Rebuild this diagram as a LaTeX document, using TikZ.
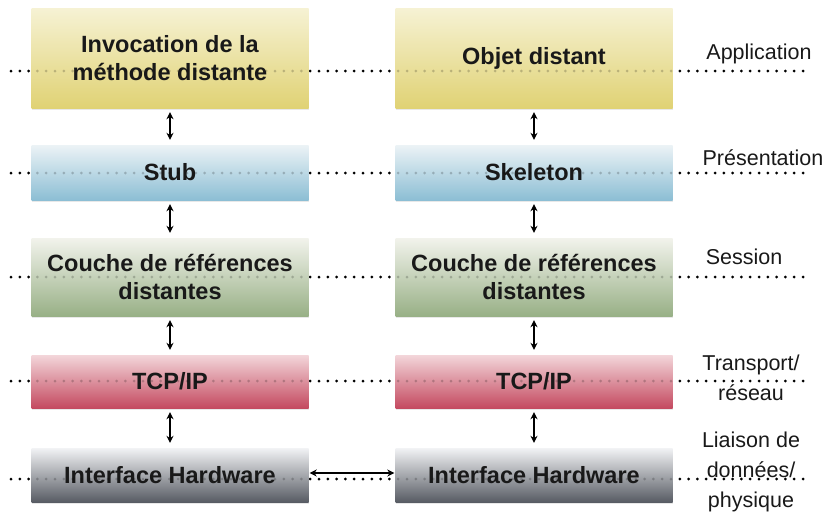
\documentclass[tikz,border=0pt]{standalone}
\usepackage{fontspec}
\setmainfont{Liberation Sans}
\usetikzlibrary{arrows.meta,shadows}

\definecolor{ylwTop}{RGB}{246,242,212}
\definecolor{ylwBot}{RGB}{224,210,116}
\definecolor{bluTop}{RGB}{236,243,246}
\definecolor{bluBot}{RGB}{140,190,212}
\definecolor{grnTop}{RGB}{242,243,236}
\definecolor{grnBot}{RGB}{152,176,134}
\definecolor{redTop}{RGB}{243,214,218}
\definecolor{redBot}{RGB}{196,74,96}
\definecolor{gryTop}{RGB}{242,243,245}
\definecolor{gryBot}{RGB}{88,92,100}
\definecolor{ink}{RGB}{25,25,25}

\tikzset{
  layerbox/.style={rectangle, inner sep=0pt, minimum width=277pt,
    align=center, text=ink,
    font=\bfseries\fontsize{23.5}{28}\selectfont,
    drop shadow={opacity=0.18, shadow xshift=0pt, shadow yshift=-2pt}},
  yellowbox/.style={layerbox, top color=ylwTop, bottom color=ylwBot},
  bluebox/.style={layerbox, top color=bluTop, bottom color=bluBot},
  greenbox/.style={layerbox, top color=grnTop, bottom color=grnBot},
  redbox/.style={layerbox, top color=redTop, bottom color=redBot},
  graybox/.style={layerbox, top color=gryTop, bottom color=gryBot},
  dotline/.style={line width=3pt, line cap=round, dash pattern=on 0pt off 8.8pt},
  osilabel/.style={align=center, text=ink, font=\fontsize{21.5}{30}\selectfont},
  link/.style={line width=1.8pt,
    {Stealth[length=7pt,width=7pt]}-{Stealth[length=7pt,width=7pt]}}
}

\begin{document}
\begin{tikzpicture}[x=1pt,y=-1pt]
\useasboundingbox (0,0) rectangle (832,515);

% layer guide lines (behind the boxes)
\foreach \yy/\nm in {71/la,173/lb,277/lc,381/ld,479/le}{
  \coordinate (\nm w) at (11,\yy);
  \coordinate (\nm e) at (808,\yy);
  \draw[dotline, black] (\nm w) -- (\nm e);
}

% client side
\node[yellowbox, minimum height=100pt] (c1) at (170,58) {Invocation de la\\méthode distante};
\node[bluebox,   minimum height=55pt]  (c2) at (170,172.5) {Stub};
\node[greenbox,  minimum height=78pt]  (c3) at (170,277) {Couche de références\\distantes};
\node[redbox,    minimum height=53pt]  (c4) at (170,381.5) {TCP/IP};
\node[graybox,   minimum height=54pt]  (c5) at (170,475) {Interface Hardware};

% server side
\node[yellowbox, minimum height=100pt] (s1) at (534,58) {Objet distant};
\node[bluebox,   minimum height=55pt]  (s2) at (534,172.5) {Skeleton};
\node[greenbox,  minimum height=78pt]  (s3) at (534,277) {Couche de références\\distantes};
\node[redbox,    minimum height=53pt]  (s4) at (534,381.5) {TCP/IP};
\node[graybox,   minimum height=54pt]  (s5) at (534,475) {Interface Hardware};

% faint guide dots seen through the boxes
\foreach \nm in {la,lb,lc,ld,le}{
  \draw[dotline, black, draw opacity=0.2] (\nm w) -- (\nm e);
}

% vertical links between layers
\foreach \a/\b in {c1/c2,c2/c3,c3/c4,c4/c5,s1/s2,s2/s3,s3/s4,s4/s5}{
  \draw[link, shorten <=4pt, shorten >=5pt] (\a.south) -- (\b.north);
}

% physical link between the two hosts
\draw[link, shorten <=1pt, shorten >=1pt] ([yshift=2pt]c5.east) -- ([yshift=2pt]s5.west);

% OSI layer names
\node[osilabel] (o1) at (759,54) {Application};
\node[osilabel] (o2) at (763,158) {Présentation};
\node[osilabel] (o3) at (744,257) {Session};
\node[osilabel] (o4) at (751,378) {Transport/\\réseau};
\node[osilabel] (o5) at (751,472) {Liaison de\\données/\\physique};
\end{tikzpicture}
\end{document}
